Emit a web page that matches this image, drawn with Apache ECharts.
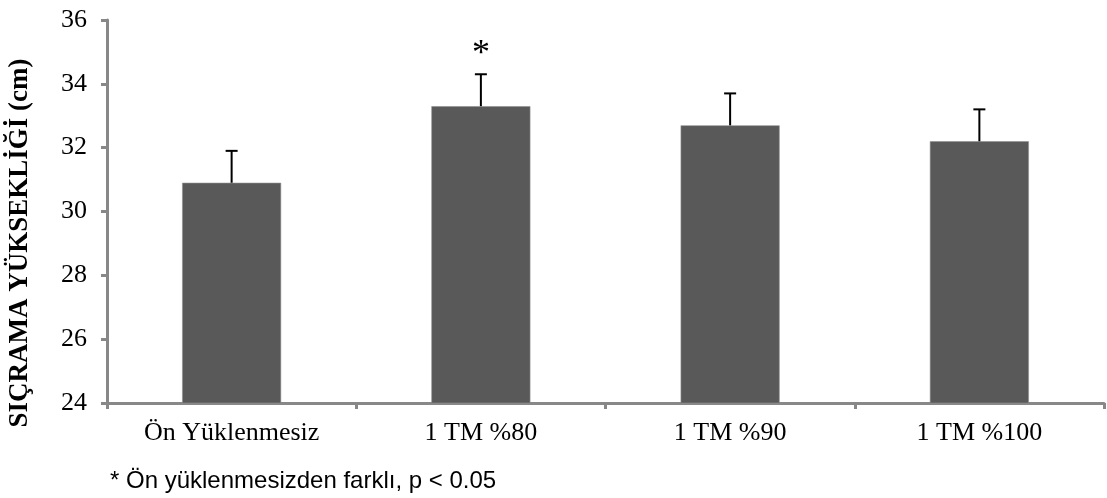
<!DOCTYPE html>
<html>
<head>
<meta charset="utf-8">
<script src="https://cdn.jsdelivr.net/npm/echarts@6/dist/echarts.min.js"></script>
<style>html,body{margin:0;padding:0;background:#fff}#c{width:1107px;height:498px}</style>
</head>
<body>
<div id="c"></div>
<script>
const categories = ['Ön Yüklenmesiz', '1 TM %80', '1 TM %90', '1 TM %100'];
const means = [30.9, 33.3, 32.7, 32.2];
const sds = [1.0, 1.0, 1.0, 1.0];
const marks = ['', '*', '', ''];
const yTicks = [24, 26, 28, 30, 32, 34, 36];
const yTitle = 'SIÇRAMA YÜKSEKLİĞİ (cm)';
const footnote = '* Ön yüklenmesizden farklı, p < 0.05';

const chart = echarts.init(document.getElementById('c'), null, {renderer: 'canvas'});
const axisColor = '#888888';
const serif = '"Liberation Serif", "Times New Roman", serif';

chart.setOption({
  animation: false,
  backgroundColor: '#fff',
  grid: {left: 107, right: 3, top: 20, bottom: 95, containLabel: false},
  xAxis: {
    type: 'category',
    data: categories,
    axisLine: {lineStyle: {color: axisColor, width: 3}},
    axisTick: {show: true, length: 6, lineStyle: {color: axisColor, width: 3}},
    axisLabel: {color: '#000', fontFamily: serif, fontSize: 26, margin: 17}
  },
  yAxis: {
    type: 'value',
    min: yTicks[0],
    max: yTicks[yTicks.length - 1],
    interval: 2,
    splitLine: {show: false},
    axisLine: {show: true, lineStyle: {color: axisColor, width: 3}},
    axisTick: {show: true, length: 6, lineStyle: {color: axisColor, width: 3}},
    axisLabel: {color: '#000', fontFamily: serif, fontSize: 26, margin: 20}
  },
  series: [
    {
      type: 'bar',
      data: means,
      barWidth: 99,
      itemStyle: {color: '#595959', borderColor: '#8f8f8f', borderWidth: 0.6},
      z: 2
    },
    {
      type: 'custom',
      data: means.map((m, i) => [i, m, sds[i]]),
      z: 3,
      renderItem: function (params, api) {
        const i = api.value(0);
        const m = api.value(1);
        const sd = api.value(2);
        const top = api.coord([i, m + sd]);
        const base = api.coord([i, m]);
        const half = 6;
        const children = [
          {type: 'line', shape: {x1: base[0], y1: base[1], x2: top[0], y2: top[1]}, style: {stroke: '#000', lineWidth: 2}},
          {type: 'line', shape: {x1: top[0] - half, y1: top[1], x2: top[0] + half, y2: top[1]}, style: {stroke: '#000', lineWidth: 2}}
        ];
        const mk = marks[params.dataIndex];
        if (mk) {
          children.push({type: 'text', x: top[0], y: top[1] - 2, style: {text: mk, fill: '#000', font: '36px ' + serif, textAlign: 'center', textVerticalAlign: 'bottom'}});
        }
        return {type: 'group', children: children};
      }
    }
  ],
  graphic: [
    {
      type: 'text',
      x: 20, y: 243,
      rotation: Math.PI / 2,
      style: {text: yTitle, fill: '#000', font: 'bold 27px ' + serif, textAlign: 'center', textVerticalAlign: 'middle'}
    },
    {
      type: 'text',
      x: 110, y: 481,
      style: {text: footnote, fill: '#000', font: '24px "Liberation Sans", Arial, sans-serif', textAlign: 'left', textVerticalAlign: 'middle'}
    }
  ]
});
</script>
</body>
</html>
